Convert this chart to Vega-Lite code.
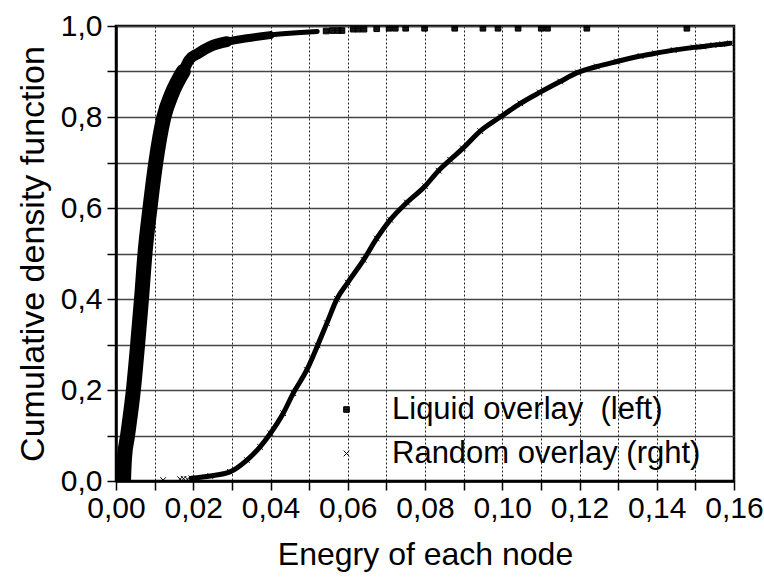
{
  "$schema": "https://vega.github.io/schema/vega-lite/v6.json",
  "autosize": "none",
  "width": 618,
  "height": 455,
  "padding": {"left": 116, "top": 26, "right": 30, "bottom": 98},
  "background": "white",
  "config": {
    "font": "Liberation Sans",
    "view": {"stroke": "black", "strokeWidth": 2.5},
    "axis": {
      "domainColor": "black", "domainWidth": 2.5,
      "tickColor": "black", "tickWidth": 1.5, "tickSize": 9,
      "labelFontSize": 30, "labelColor": "black",
      "titleFontSize": 32, "titleColor": "black", "titleFontWeight": "normal"
    }
  },
  "data": {
    "values": [
      {"series": "Liquid overlay\u00a0 (left)", "x": 0.0019, "y": -0.01},
      {"series": "Liquid overlay\u00a0 (left)", "x": 0.0022, "y": 0.05},
      {"series": "Liquid overlay\u00a0 (left)", "x": 0.0030, "y": 0.1},
      {"series": "Liquid overlay\u00a0 (left)", "x": 0.0045, "y": 0.2},
      {"series": "Liquid overlay\u00a0 (left)", "x": 0.0056, "y": 0.3},
      {"series": "Liquid overlay\u00a0 (left)", "x": 0.0066, "y": 0.4},
      {"series": "Liquid overlay\u00a0 (left)", "x": 0.0075, "y": 0.5},
      {"series": "Liquid overlay\u00a0 (left)", "x": 0.0088, "y": 0.6},
      {"series": "Liquid overlay\u00a0 (left)", "x": 0.0103, "y": 0.7},
      {"series": "Liquid overlay\u00a0 (left)", "x": 0.0124, "y": 0.8},
      {"series": "Liquid overlay\u00a0 (left)", "x": 0.0144, "y": 0.85},
      {"series": "Liquid overlay\u00a0 (left)", "x": 0.0174, "y": 0.9},
      {"series": "Liquid overlay\u00a0 (left)", "x": 0.0189, "y": 0.925},
      {"series": "Liquid overlay\u00a0 (left)", "x": 0.0213, "y": 0.94},
      {"series": "Liquid overlay\u00a0 (left)", "x": 0.0244, "y": 0.955},
      {"series": "Liquid overlay\u00a0 (left)", "x": 0.0287, "y": 0.9655},
      {"series": "Liquid overlay\u00a0 (left)", "x": 0.0339, "y": 0.973},
      {"series": "Liquid overlay\u00a0 (left)", "x": 0.0399, "y": 0.98},
      {"series": "Liquid overlay\u00a0 (left)", "x": 0.0468, "y": 0.985},
      {"series": "Liquid overlay\u00a0 (left)", "x": 0.0521, "y": 0.988},
      {"series": "Liquid overlay\u00a0 (left)", "x": 0.0544, "y": 0.989},
      {"series": "Liquid overlay\u00a0 (left)", "x": 0.0560, "y": 0.990},
      {"series": "Liquid overlay\u00a0 (left)", "x": 0.0575, "y": 0.990},
      {"series": "Liquid overlay\u00a0 (left)", "x": 0.0585, "y": 0.990},
      {"series": "Liquid overlay\u00a0 (left)", "x": 0.0614, "y": 0.993},
      {"series": "Liquid overlay\u00a0 (left)", "x": 0.0627, "y": 0.993},
      {"series": "Liquid overlay\u00a0 (left)", "x": 0.0642, "y": 0.993},
      {"series": "Liquid overlay\u00a0 (left)", "x": 0.0675, "y": 0.994},
      {"series": "Liquid overlay\u00a0 (left)", "x": 0.0707, "y": 0.995},
      {"series": "Liquid overlay\u00a0 (left)", "x": 0.0723, "y": 0.995},
      {"series": "Liquid overlay\u00a0 (left)", "x": 0.0750, "y": 0.995},
      {"series": "Liquid overlay\u00a0 (left)", "x": 0.0799, "y": 0.995},
      {"series": "Liquid overlay\u00a0 (left)", "x": 0.0877, "y": 0.995},
      {"series": "Liquid overlay\u00a0 (left)", "x": 0.0950, "y": 0.995},
      {"series": "Liquid overlay\u00a0 (left)", "x": 0.0989, "y": 0.995},
      {"series": "Liquid overlay\u00a0 (left)", "x": 0.1041, "y": 0.995},
      {"series": "Liquid overlay\u00a0 (left)", "x": 0.1101, "y": 0.995},
      {"series": "Liquid overlay\u00a0 (left)", "x": 0.1117, "y": 0.995},
      {"series": "Liquid overlay\u00a0 (left)", "x": 0.1219, "y": 0.995},
      {"series": "Liquid overlay\u00a0 (left)", "x": 0.1478, "y": 0.995},
      {"series": "Random overlay (rght)", "x": 0.0122, "y": 0.002},
      {"series": "Random overlay (rght)", "x": 0.0166, "y": 0.004},
      {"series": "Random overlay (rght)", "x": 0.0175, "y": 0.005},
      {"series": "Random overlay (rght)", "x": 0.0185, "y": 0.004},
      {"series": "Random overlay (rght)", "x": 0.0195, "y": 0.006},
      {"series": "Random overlay (rght)", "x": 0.0244, "y": 0.011},
      {"series": "Random overlay (rght)", "x": 0.0295, "y": 0.02},
      {"series": "Random overlay (rght)", "x": 0.0339, "y": 0.046},
      {"series": "Random overlay (rght)", "x": 0.0373, "y": 0.075},
      {"series": "Random overlay (rght)", "x": 0.0400, "y": 0.105},
      {"series": "Random overlay (rght)", "x": 0.0433, "y": 0.149},
      {"series": "Random overlay (rght)", "x": 0.0459, "y": 0.193},
      {"series": "Random overlay (rght)", "x": 0.0494, "y": 0.244},
      {"series": "Random overlay (rght)", "x": 0.0522, "y": 0.298},
      {"series": "Random overlay (rght)", "x": 0.0546, "y": 0.347},
      {"series": "Random overlay (rght)", "x": 0.0572, "y": 0.400},
      {"series": "Random overlay (rght)", "x": 0.0600, "y": 0.436},
      {"series": "Random overlay (rght)", "x": 0.0641, "y": 0.486},
      {"series": "Random overlay (rght)", "x": 0.0675, "y": 0.533},
      {"series": "Random overlay (rght)", "x": 0.0710, "y": 0.574},
      {"series": "Random overlay (rght)", "x": 0.0753, "y": 0.612},
      {"series": "Random overlay (rght)", "x": 0.0800, "y": 0.648},
      {"series": "Random overlay (rght)", "x": 0.0835, "y": 0.682},
      {"series": "Random overlay (rght)", "x": 0.0865, "y": 0.706},
      {"series": "Random overlay (rght)", "x": 0.0898, "y": 0.731},
      {"series": "Random overlay (rght)", "x": 0.0943, "y": 0.769},
      {"series": "Random overlay (rght)", "x": 0.0997, "y": 0.801},
      {"series": "Random overlay (rght)", "x": 0.1047, "y": 0.830},
      {"series": "Random overlay (rght)", "x": 0.1097, "y": 0.854},
      {"series": "Random overlay (rght)", "x": 0.1150, "y": 0.878},
      {"series": "Random overlay (rght)", "x": 0.1196, "y": 0.898},
      {"series": "Random overlay (rght)", "x": 0.1245, "y": 0.911},
      {"series": "Random overlay (rght)", "x": 0.1297, "y": 0.922},
      {"series": "Random overlay (rght)", "x": 0.1358, "y": 0.934},
      {"series": "Random overlay (rght)", "x": 0.1396, "y": 0.940},
      {"series": "Random overlay (rght)", "x": 0.1444, "y": 0.947},
      {"series": "Random overlay (rght)", "x": 0.1496, "y": 0.953},
      {"series": "Random overlay (rght)", "x": 0.1520, "y": 0.955},
      {"series": "Random overlay (rght)", "x": 0.1547, "y": 0.958},
      {"series": "Random overlay (rght)", "x": 0.1570, "y": 0.960},
      {"series": "Random overlay (rght)", "x": 0.1590, "y": 0.962}
    ]
  },
  "encoding": {
    "x": {
      "field": "x", "type": "quantitative",
      "scale": {"domain": [0, 0.16], "nice": false, "zero": false},
      "axis": {
        "title": "Enegry of each node",
        "values": [0,0.01,0.02,0.03,0.04,0.05,0.06,0.07,0.08,0.09,0.1,0.11,0.12,0.13,0.14,0.15,0.16],
        "labelExpr": "round(datum.value*100) % 2 == 0 ? replace(format(datum.value, '.2f'), '.', ',') : ''",
        "labelPadding": 3, "titlePadding": 16,
        "gridColor": "#222", "gridDash": [2, 2], "gridWidth": 1,
        "labelFlush": false, "labelOverlap": false
      }
    },
    "y": {
      "field": "y", "type": "quantitative",
      "scale": {"domain": [0, 1], "nice": false, "zero": false},
      "axis": {
        "title": "Cumulative density function",
        "titleFontSize": 34,
        "values": [0,0.1,0.2,0.3,0.4,0.5,0.6,0.7,0.8,0.9,1.0],
        "labelExpr": "round(datum.value*10) % 2 == 0 ? replace(format(datum.value, '.1f'), '.', ',') : ''",
        "labelPadding": 5, "titlePadding": 10,
        "gridColor": "#444", "gridWidth": 1.3,
        "labelFlush": false, "labelOverlap": false
      }
    }
  },
  "layer": [
    {
      "transform": [{"filter": "datum.series == 'Liquid overlay\u00a0 (left)' && datum.x <= 0.0175"}],
      "mark": {"type": "line", "color": "black", "strokeWidth": 15, "strokeCap": "round", "interpolate": "monotone", "clip": true}
    },
    {
      "transform": [{"filter": "datum.series == 'Liquid overlay\u00a0 (left)' && datum.x >= 0.0143 && datum.x <= 0.029"}],
      "mark": {"type": "line", "color": "black", "strokeWidth": 11, "strokeCap": "round", "interpolate": "monotone", "clip": true}
    },
    {
      "transform": [{"filter": "datum.series == 'Liquid overlay\u00a0 (left)' && datum.x >= 0.0243 && datum.x <= 0.041"}],
      "mark": {"type": "line", "color": "black", "strokeWidth": 8, "strokeCap": "round", "interpolate": "monotone", "clip": true}
    },
    {
      "transform": [{"filter": "datum.series == 'Liquid overlay\u00a0 (left)' && datum.x >= 0.0338 && datum.x <= 0.053"}],
      "mark": {"type": "line", "color": "black", "strokeWidth": 5, "strokeCap": "round", "interpolate": "monotone", "clip": true}
    },
    {
      "transform": [{"filter": "datum.series == 'Random overlay (rght)' && datum.x >= 0.0195"}],
      "mark": {"type": "line", "color": "black", "strokeWidth": 5, "strokeCap": "round", "interpolate": "monotone", "clip": true}
    },
    {
      "transform": [{"filter": "(datum.series == 'Liquid overlay\u00a0 (left)' && datum.x > 0.053) || datum.series == 'Random overlay (rght)'"}],
      "mark": {"type": "point", "filled": false, "color": "black", "strokeWidth": 1, "opacity": 1, "size": 32, "clip": true},
      "encoding": {
        "shape": {
          "field": "series", "type": "nominal",
          "scale": {
            "domain": ["Liquid overlay\u00a0 (left)", "Random overlay (rght)"],
            "range": ["M-1,-1H1V1H-1ZM-1,-0.75H1M-1,-0.5H1M-1,-0.25H1M-1,0H1M-1,0.25H1M-1,0.5H1M-1,0.75H1", "M-1,-1L1,1M1,-1L-1,1"]
          },
          "legend": {
            "title": null, "orient": "none", "legendX": 215, "legendY": 368,
            "labelFontSize": 31, "labelColor": "black", "labelLimit": 500,
            "symbolSize": 32, "symbolStrokeColor": "black", "symbolStrokeWidth": 1,
            "symbolOpacity": 1, "labelOffset": 30, "rowPadding": 12
          }
        }
      }
    }
  ]
}
